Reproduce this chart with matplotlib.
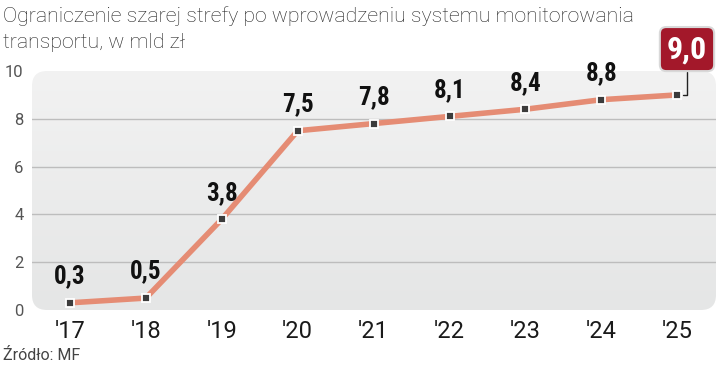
import numpy as np
import matplotlib
matplotlib.use("Agg")
import matplotlib.pyplot as plt
from matplotlib import font_manager
from matplotlib.patches import FancyBboxPatch

years = ["'17", "'18", "'19", "'20", "'21", "'22", "'23", "'24", "'25"]
values = [0.3, 0.5, 3.8, 7.5, 7.8, 8.1, 8.4, 8.8, 9.0]
labels = ["0,3", "0,5", "3,8", "7,5", "7,8", "8,1", "8,4", "8,8", "9,0"]
yticks = [0, 2, 4, 6, 8, 10]

title = "Ograniczenie szarej strefy po wprowadzeniu systemu monitorowania\ntransportu, w mld zł"
source = "Źródło: MF"


def pick(names):
    have = {f.name for f in font_manager.fontManager.ttflist}
    for n in names:
        if n in have:
            return n
    return "DejaVu Sans"


narrow = pick(["Liberation Sans Narrow", "DejaVu Sans Condensed", "Roboto Condensed", "Liberation Sans"])
light = pick(["Roboto", "Open Sans", "Lato", "DejaVu Sans"])

fig = plt.figure(figsize=(7.2, 3.69), dpi=100)
ax = fig.add_axes([32 / 720, 59 / 369, 684 / 720, 239 / 369])

# rounded grey background with a slight gradient
bg = FancyBboxPatch((0, 0), 1, 1, boxstyle="round,pad=0,rounding_size=0.022",
                    mutation_aspect=684 / 239, transform=ax.transAxes,
                    facecolor="none", edgecolor="none", zorder=0)
ax.add_patch(bg)
grad = np.linspace(0, 1, 256).reshape(-1, 1)
cmap = matplotlib.colors.LinearSegmentedColormap.from_list("g", ["#f2f2f2", "#e5e6e6"])
im = ax.imshow(grad, cmap=cmap, extent=[0, 1, 0, 1], transform=ax.transAxes,
               aspect="auto", origin="upper", zorder=0)
im.set_clip_path(bg)
ax.set_xlim(-0.5, 8.51)
ax.set_ylim(0, 10)

for y in yticks[1:-1]:
    ax.axhline(y, color="#bdbdbd", lw=1, zorder=1)

x = np.arange(len(years))
ax.plot(x, values, color="#e58c74", lw=4, zorder=2, solid_capstyle="round")
ax.plot(x, values, ls="none", marker="s", ms=6, mfc="#3c3c3c", mec="white", mew=1.3, zorder=3)

for i, (v, lab) in enumerate(zip(values, labels)):
    if i == len(values) - 1:
        continue
    ax.annotate(lab, (i, v), xytext=(0, 19), textcoords="offset points",
                ha="center", va="center", fontsize=18, fontweight="bold",
                family=narrow, color="#111111", zorder=4)

# highlighted last value
ax.annotate(labels[-1], (x[-1], values[-1]), xytext=(7, 33), textcoords="offset points",
            ha="center", va="center", fontsize=23, fontweight="bold", family=narrow,
            color="white", zorder=5, annotation_clip=False,
            bbox=dict(boxstyle="round,pad=0.22,rounding_size=0.2", fc="#a3182a",
                      ec="#d9d9d9", lw=1.5),
            arrowprops=dict(arrowstyle="-", color="#222222", lw=1,
                            connectionstyle="angle,angleA=90,angleB=0,rad=0",
                            shrinkA=0, shrinkB=4))

ax.set_xticks(x)
ax.set_xticklabels(years, fontsize=17, color="#1a1a1a", family=light)
ax.set_yticks(yticks)
ax.set_yticklabels([str(t) for t in yticks], fontsize=12, color="#555555", family=light)
ax.tick_params(length=0, axis="x", pad=7)
ax.tick_params(length=0, axis="y", pad=6)
for s in ax.spines.values():
    s.set_visible(False)

fig.text(3 / 720, 1 - 6 / 369, title, ha="left", va="top", fontsize=15.3,
         color="#222222", family=light, fontweight="light", linespacing=1.45)
fig.text(3 / 720, 1 - 355 / 369, source, ha="left", va="center", fontsize=11.5,
         color="#444444", family=light)

fig.savefig("out.png", dpi=100)
